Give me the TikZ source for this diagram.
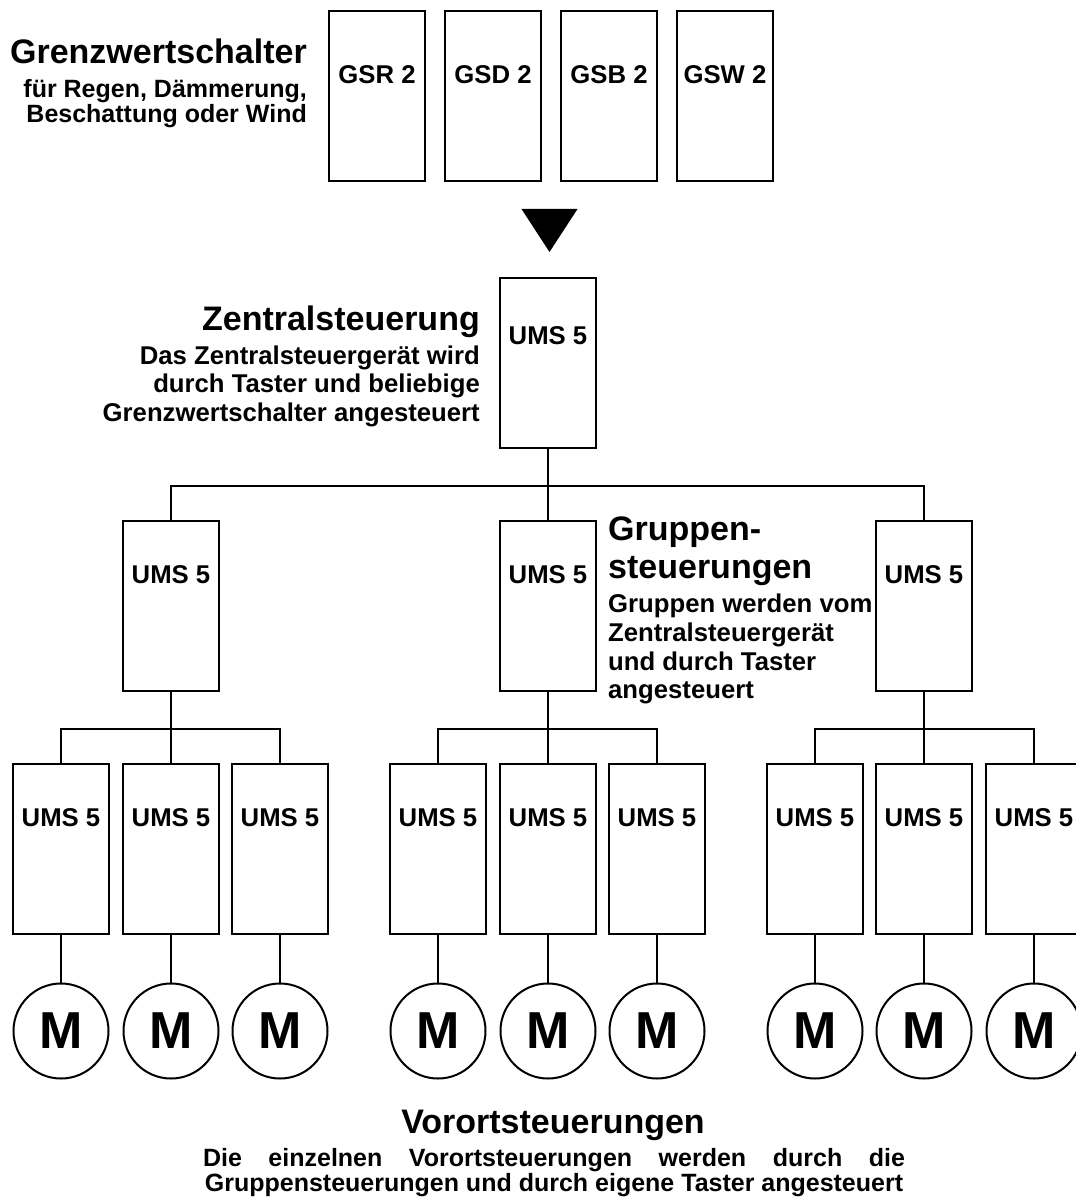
\documentclass[tikz,border=0pt]{standalone}
\usepackage{fontspec}
\setmainfont{Liberation Sans}
\newcommand\headfont{\fontsize{34}{36}\selectfont\bfseries}
\newcommand\bodyfont{\fontsize{25}{27}\selectfont\bfseries}
\newcommand\bodyfontb{\fontsize{25.7}{27}\selectfont\bfseries}
\newcommand\motorfont{\fontsize{52}{54}\selectfont\bfseries}
\begin{document}
\begin{tikzpicture}[x=1pt,y=-1pt,
  box/.style={draw, line width=2pt, minimum width=96pt, minimum height=170pt, inner sep=0pt},
  boxlbl/.style={anchor=base, inner sep=0pt, font=\bodyfontb},
  motor/.style={draw, circle, line width=2pt, minimum size=95pt, inner sep=0pt, font=\motorfont},
  wire/.style={line width=2pt},
  head/.style={inner sep=0pt, font=\headfont},
  body/.style={inner sep=0pt, font=\bodyfont},
  bodyb/.style={inner sep=0pt, font=\bodyfontb}]
\fill[white] (0,0) rectangle (1075,1198);
\useasboundingbox (0,0) rectangle (1075,1198);

% Grenzwertschalter
\node[head, anchor=base east] (gtitle) at (307,64) {Grenzwertschalter};
\node[body, anchor=base east] (gl1) at (307,97.5) {für Regen, Dämmerung,};
\node[body, anchor=base east] (gl2) at (307,123) {Beschattung oder Wind};
\node[box, label={[boxlbl, yshift=-74pt]north:GSR 2}] (gsr) at (377,96) {};
\node[box, label={[boxlbl, yshift=-74pt]north:GSD 2}] (gsd) at (493,96) {};
\node[box, label={[boxlbl, yshift=-74pt]north:GSB 2}] (gsb) at (609,96) {};
\node[box, label={[boxlbl, yshift=-74pt]north:GSW 2}] (gsw) at (725,96) {};

% arrow triangle
\fill (521.5,209) -- (577.5,209) -- (549.5,252) -- cycle;

% Zentralsteuerung
\node[box, label={[boxlbl, yshift=-67pt]north:UMS 5}] (zent) at (548,363) {};
\node[head, anchor=base east] (ztitle) at (480,330) {Zentralsteuerung};
\node[bodyb, anchor=base east] (zl1) at (480,364) {Das Zentralsteuergerät wird};
\node[bodyb, anchor=base east] (zl2) at (480,392.5) {durch Taster und beliebige};
\node[bodyb, anchor=base east] (zl3) at (480,421) {Grenzwertschalter angesteuert};

% Gruppensteuerungen
\node[box, label={[boxlbl, yshift=-63pt]north:UMS 5}] (gA) at (171,606) {};
\node[box, label={[boxlbl, yshift=-63pt]north:UMS 5}] (gB) at (548,606) {};
\node[box, label={[boxlbl, yshift=-63pt]north:UMS 5}] (gC) at (924,606) {};
\node[head, anchor=base west] (grt1) at (608,540) {Gruppen-};
\node[head, anchor=base west] (grt2) at (608,578) {steuerungen};
\node[bodyb, anchor=base west] (grl1) at (608,612) {Gruppen werden vom};
\node[bodyb, anchor=base west] (grl2) at (608,641) {Zentralsteuergerät};
\node[bodyb, anchor=base west] (grl3) at (608,670) {und durch Taster};
\node[bodyb, anchor=base west] (grl4) at (608,698) {angesteuert};

\draw[wire] (zent.south) -- ++(0,37) -| (gA.north);
\draw[wire] (zent.south) -- ++(0,37) -| (gC.north);
\draw[wire] (zent.south) -- (gB.north);

% Vorortsteuerungen
\foreach \n/\x in {a1/61, a2/171, a3/280, b1/438, b2/548, b3/657, c1/815, c2/924, c3/1034}{
  \node[box, label={[boxlbl, yshift=-63pt]north:UMS 5}] (v\n) at (\x,849) {};
  \node[motor] (m\n) at (\x,1031) {M};
  \draw[wire] (v\n.south) -- (m\n.north);
}
\foreach \g/\p in {A/a, B/b, C/c}{
  \draw[wire] (g\g.south) -- ++(0,37) -| (v\p1.north);
  \draw[wire] (g\g.south) -- ++(0,37) -| (v\p3.north);
  \draw[wire] (g\g.south) -- (v\p2.north);
}

\node[head, anchor=base] (vtitle) at (553,1133) {Vorortsteuerungen};
\node[body, anchor=base] (vl1) at (554,1166) {\makebox[702pt][s]{Die einzelnen Vorortsteuerungen werden durch die}};
\node[body, anchor=base] (vl2) at (554,1191) {Gruppensteuerungen und durch eigene Taster angesteuert};
\end{tikzpicture}
\end{document}
